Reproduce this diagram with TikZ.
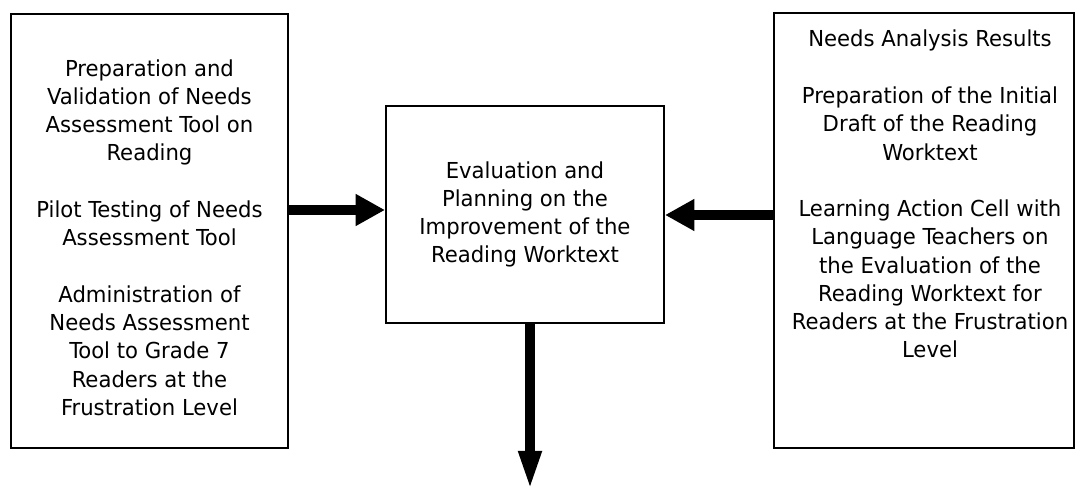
\documentclass[tikz,border=0pt]{standalone}
\usepackage{fontspec}
\setmainfont{DejaVu Sans Condensed}[FakeStretch=1.07]
\usetikzlibrary{positioning,arrows.meta}

\begin{document}
\begin{tikzpicture}[
  x=0.75pt, y=-0.75pt,
  font=\fontsize{16.5}{21.2}\selectfont,
  box/.style = {
    rectangle, draw=black, line width=1.5pt, align=center,
    inner sep=0pt,
  },
  txt/.style = {align=center, inner sep=0pt},
  bigarrow/.style = {-{Triangle[length=22pt,width=22.5pt]}, line width=7.5pt},
]
  \useasboundingbox (0,0) rectangle (1075,491);

  \node[box, minimum width=277*0.75pt, minimum height=434*0.75pt] (lbox) at (149.5,231) {};
  \node[txt] (ltxt) at (149.5,237.5)
    {Preparation and\\ Validation of Needs\\ Assessment Tool on\\ Reading\\[21.2pt]
     Pilot Testing of Needs\\ Assessment Tool\\[21.2pt]
     Administration of\\ Needs Assessment\\ Tool to Grade 7\\ Readers at the\\ Frustration Level};
  \node[box, minimum width=278*0.75pt, minimum height=217*0.75pt] (cbox) at (525,214.5)
    {Evaluation and\\ Planning on the\\ Improvement of the\\ Reading Worktext};
  \node[box, minimum width=300*0.75pt, minimum height=435*0.75pt] (rbox) at (924,230.5) {};
  \node[txt, anchor=north] (rtxt) at (930,30)
    {Needs Analysis Results\\[21.2pt]
     Preparation of the Initial\\ Draft of the Reading\\ Worktext\\[21.2pt]
     Learning Action Cell with\\ Language Teachers on\\ the Evaluation of the\\
     Reading Worktext for\\ Readers at the Frustration\\ Level};

  % output of the evaluation stage
  \coordinate (out) at (530,491);

  \draw[bigarrow] (lbox.east |- 0,210) -- (cbox.west |- 0,210);
  \draw[bigarrow] (rbox.west |- 0,215) -- (cbox.east |- 0,215);
  \draw[-{Triangle[length=30pt,width=15.5pt]}, line width=7.5pt] (cbox.south -| out) -- (out);
\end{tikzpicture}
\end{document}
